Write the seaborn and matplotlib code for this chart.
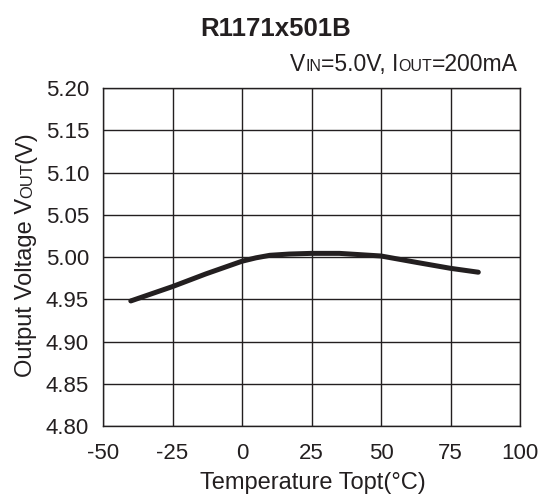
import numpy as np
import pandas as pd
import matplotlib
matplotlib.use("Agg")
import matplotlib.pyplot as plt
import matplotlib.transforms as mtransforms
import seaborn as sns

# data
temps = [-40, -25, -13, 0, 5, 10, 17, 25, 35, 50, 63, 75, 85]
vout = [4.948, 4.965, 4.980, 4.995, 4.999, 5.002, 5.0035, 5.0043, 5.0043, 5.0012, 4.9935, 4.9866, 4.982]

x_ticks = [-50, -25, 0, 25, 50, 75, 100]
y_ticks = [4.80, 4.85, 4.90, 4.95, 5.00, 5.05, 5.10, 5.15, 5.20]

sns.set_theme(style="white")
plt.rcParams['font.family'] = ['Liberation Sans', 'DejaVu Sans']

W, H, DPI = 541, 495, 100
INK = "#231f20"
fig = plt.figure(figsize=(W / DPI, H / DPI), dpi=DPI)
ax = fig.add_axes([103 / W, 1 - 426 / H, 417 / W, 338 / H])

df = pd.DataFrame({"temp": temps, "vout": vout})
sns.lineplot(data=df, x="temp", y="vout", ax=ax, color=INK, linewidth=3.6)

ax.set_xlim(-50, 100)
ax.set_ylim(4.80, 5.20)
ax.set_xticks(x_ticks)
ax.set_xticklabels([str(t) for t in x_ticks])
ax.set_yticks(y_ticks)
ax.set_yticklabels([f"{t:.2f}" for t in y_ticks])
ax.grid(True, color=INK, linewidth=1.0)
for s in ax.spines.values():
    s.set_color(INK)
    s.set_linewidth(1.0)
ax.tick_params(axis="both", length=0, labelsize=16, colors=INK)
ax.tick_params(axis="y", pad=10)
ax.tick_params(axis="x", pad=12)
ax.set_xlabel("")
ax.set_ylabel("")


def rich_text(parts, x, y, ha="left", rotation=0):
    # parts: list of (text, fontsize); x,y in pixels
    renderer = fig.canvas.get_renderer()
    objs = []
    lengths = []
    for txt, fs in parts:
        t = fig.text(0, 0, txt, fontsize=fs, color=INK, rotation=rotation,
                     ha="left", va="baseline", rotation_mode="anchor")
        bb = t.get_window_extent(renderer)
        lengths.append(bb.height if rotation else bb.width)
        objs.append(t)
    total = sum(lengths)
    start = {"left": 0, "center": -total / 2, "right": -total}[ha]
    pos = start
    for t, L in zip(objs, lengths):
        if rotation:
            tr = mtransforms.offset_copy(fig.transFigure, fig, x=x, y=y + pos, units="dots")
        else:
            tr = mtransforms.offset_copy(fig.transFigure, fig, x=x + pos, y=y, units="dots")
        t.set_transform(tr)
        pos += L


fig.text(276 / W, 1 - 36 / H, "R1171x501B", fontsize=18.5, fontweight="bold",
         color=INK, ha="center", va="baseline")

big, small = 16.5, 11.5
rich_text([("V", big), ("IN", small), ("=5.0V, I", big), ("OUT", small), ("=200mA", big)],
          518, H - 71, ha="right")
rich_text([("Output Voltage V", 17), ("OUT", 12), ("(V)", 17)],
          32, H - 254, ha="center", rotation=90)
fig.text(313 / W, 1 - 489 / H, "Temperature Topt(\u00b0C)", fontsize=17,
         color=INK, ha="center", va="baseline")

fig.savefig("out.png", dpi=DPI)
